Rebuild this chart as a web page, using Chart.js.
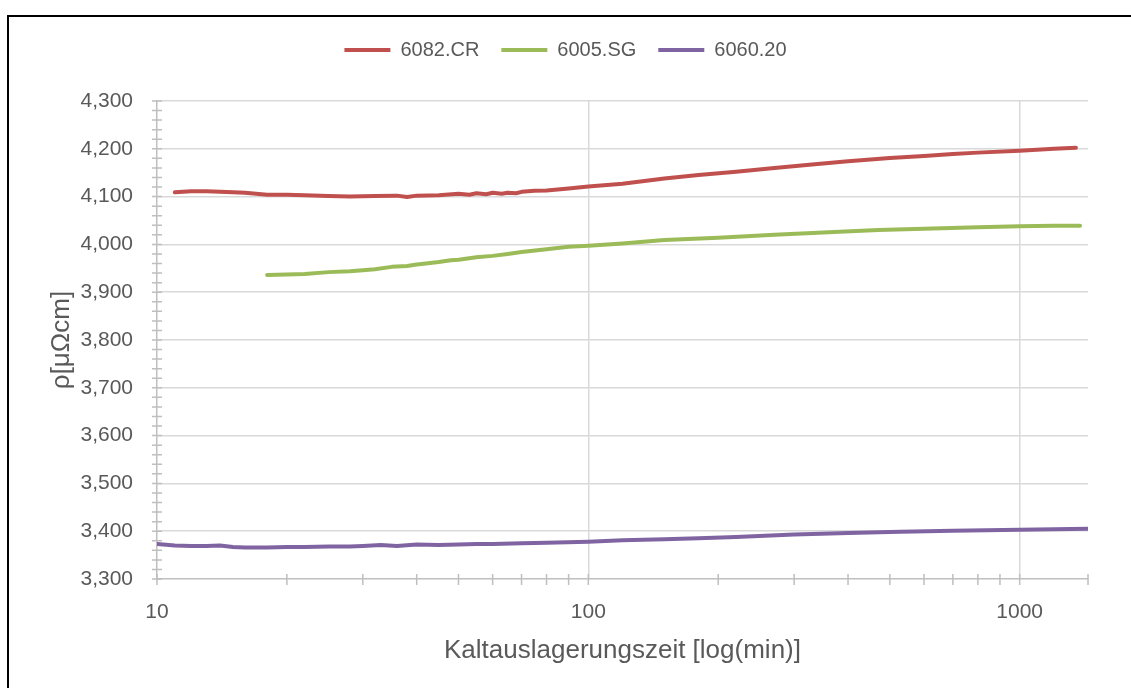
<!DOCTYPE html>
<html>
<head>
<meta charset="utf-8">
<script src="https://cdn.jsdelivr.net/npm/chart.js@4.4.1/dist/chart.umd.min.js"></script>
<style>
html,body{margin:0;padding:0;background:#fff;}
#wrap{width:1131px;height:688px;position:relative;}
</style>
</head>
<body>
<div id="wrap"><canvas id="c" width="1131" height="688"></canvas></div>
<script>
// ---- data ----
const seriesNames = ['6082.CR', '6005.SG', '6060.20'];
const seriesColors = ['#C0504D', '#9BBB59', '#8064A2'];

const timeCR = [11, 12, 13, 14, 15, 16, 18, 20, 22, 25, 28, 32, 36, 38, 40, 45, 50, 53, 55, 58, 60, 63, 65, 68, 70, 75, 80, 90, 100, 120, 150, 180, 220, 270, 330, 400, 500, 600, 700, 800, 1000, 1200, 1350];
const rhoCR  = [4109, 4111, 4111, 4110, 4109, 4108, 4104, 4104, 4103, 4101, 4100, 4101, 4102, 4099, 4102, 4103, 4106, 4104, 4107, 4105, 4108, 4106, 4108, 4107, 4110, 4112, 4113, 4117, 4121, 4127, 4138, 4145, 4152, 4160, 4167, 4174, 4181, 4185, 4189, 4192, 4196, 4200, 4202];

const timeSG = [18, 20, 22, 25, 28, 30, 32, 35, 38, 40, 42, 45, 48, 50, 55, 60, 65, 70, 80, 90, 100, 120, 150, 200, 270, 350, 470, 600, 800, 1000, 1200, 1380];
const rhoSG  = [3936, 3937, 3938, 3942, 3944, 3946, 3948, 3953, 3955, 3958, 3960, 3963, 3967, 3968, 3973, 3976, 3980, 3984, 3990, 3995, 3997, 4002, 4009, 4014, 4020, 4025, 4030, 4033, 4036, 4038, 4039, 4039];

const timeT20 = [10, 11, 12, 13, 14, 15, 16, 18, 20, 22, 25, 28, 30, 33, 36, 40, 45, 50, 55, 60, 70, 80, 100, 120, 150, 180, 220, 300, 400, 530, 700, 1000, 1200, 1440];
const rhoT20  = [3373, 3370, 3369, 3369, 3370, 3367, 3366, 3366, 3367, 3367, 3368, 3368, 3369, 3371, 3369, 3372, 3371, 3372, 3373, 3373, 3375, 3376, 3378, 3381, 3383, 3385, 3388, 3393, 3396, 3399, 3401, 3403, 3404, 3405];

const xTickValues = [10, 20, 30, 40, 50, 60, 70, 80, 90, 100, 200, 300, 400, 500, 600, 700, 800, 900, 1000, 1440];
const xLabelValues = [10, 100, 1000];
const xMin = 10, xMax = 1440;
const yMin = 3300, yMax = 4300, yLabelStep = 100, yMinorStep = 20;

const xTitle = 'Kaltauslagerungszeit [log(min)]';
const yTitle = 'ρ[μΩcm]';

// ---- chart ----
const FONT = "'Liberation Sans', Arial, sans-serif";
const TEXT = '#595959';
const AXIS = '#bfbfbf';
const GRID = '#d9d9d9';

function toPoints(xs, ys) { return xs.map((x, i) => ({x: x, y: ys[i]})); }
const seriesData = [toPoints(timeCR, rhoCR), toPoints(timeSG, rhoSG), toPoints(timeT20, rhoT20)];

const decor = {
  id: 'decor',
  beforeDraw(chart) {
    const ctx = chart.ctx;
    ctx.save();
    ctx.fillStyle = '#fff';
    ctx.fillRect(0, 0, chart.width, chart.height);
    ctx.restore();
  },
  beforeDatasetsDraw(chart) {
    const ctx = chart.ctx, xs = chart.scales.x, ys = chart.scales.y;
    const a = chart.chartArea;
    ctx.save();
    ctx.strokeStyle = AXIS;
    ctx.lineWidth = 1.5;
    ctx.beginPath();
    ys.ticks.forEach(t => {
      const p = ys.getPixelForValue(t.value);
      ctx.moveTo(a.left - 5, p); ctx.lineTo(a.left + 5, p);
    });
    xs.ticks.forEach(t => {
      const p = xs.getPixelForValue(t.value);
      ctx.moveTo(p, a.bottom - 5); ctx.lineTo(p, a.bottom + 6);
    });
    ctx.stroke();
    ctx.restore();
  },
  afterDraw(chart) {
    const ctx = chart.ctx;
    ctx.save();
    ctx.strokeStyle = '#000';
    ctx.lineWidth = 2;
    ctx.strokeRect(8, 16, 2000, 2000);
    ctx.restore();
  }
};

new Chart(document.getElementById('c'), {
  type: 'scatter',
  data: {
    datasets: seriesNames.map((n, i) => ({
      label: n,
      data: seriesData[i],
      showLine: true,
      borderColor: seriesColors[i],
      backgroundColor: seriesColors[i],
      borderWidth: 4,
      borderCapStyle: 'round',
      borderJoinStyle: 'round',
      pointRadius: 0,
      pointHoverRadius: 0,
      tension: 0
    }))
  },
  options: {
    responsive: false,
    animation: false,
    events: [],
    layout: {padding: {top: 18, left: 0, right: 0, bottom: 0}},
    plugins: {
      legend: {
        position: 'top',
        weight: 1000,
        labels: {
          usePointStyle: true,
          pointStyle: 'line',
          pointStyleWidth: 46,
          padding: 22,
          color: TEXT,
          font: {family: FONT, size: 20}
        }
      },
      title: {
        display: true,
        text: '',
        position: 'top',
        weight: 10,
        font: {family: FONT, size: 10, lineHeight: 1},
        padding: {top: 0, bottom: 21}
      },
      tooltip: {enabled: false}
    },
    scales: {
      x: {
        type: 'logarithmic',
        min: xMin,
        max: xMax,
        afterBuildTicks: s => { s.ticks = xTickValues.map(v => ({value: v})); },
        afterFit: s => { s.height = 109; s.paddingRight = 43; },
        ticks: {
          autoSkip: false,
          maxRotation: 0,
          minRotation: 0,
          padding: 21,
          color: TEXT,
          font: {family: FONT, size: 21},
          callback: v => xLabelValues.includes(v) ? String(v) : ''
        },
        grid: {
          drawTicks: false,
          lineWidth: 1.5,
          color: c => (c.tick && xLabelValues.includes(c.tick.value) && c.tick.value !== xMin) ? GRID : 'rgba(0,0,0,0)'
        },
        border: {display: true, color: AXIS, width: 1.5},
        title: {
          display: true,
          text: xTitle,
          color: TEXT,
          font: {family: FONT, size: 26},
          padding: {top: 0, bottom: 22}
        }
      },
      y: {
        type: 'linear',
        min: yMin,
        max: yMax,
        afterFit: s => { s.width = 157; },
        ticks: {
          stepSize: yMinorStep,
          autoSkip: false,
          padding: 24,
          color: TEXT,
          font: {family: FONT, size: 21},
          callback: v => (v % yLabelStep === 0) ? v.toLocaleString('en-US') : ''
        },
        grid: {
          drawTicks: false,
          lineWidth: 1.5,
          color: c => (c.tick && c.tick.value % yLabelStep === 0 && c.tick.value !== yMin) ? GRID : 'rgba(0,0,0,0)'
        },
        border: {display: true, color: AXIS, width: 1.5},
        title: {
          display: true,
          text: yTitle,
          color: TEXT,
          font: {family: FONT, size: 26},
          padding: {top: 46, bottom: 0}
        }
      }
    }
  },
  plugins: [decor]
});
</script>
</body>
</html>
